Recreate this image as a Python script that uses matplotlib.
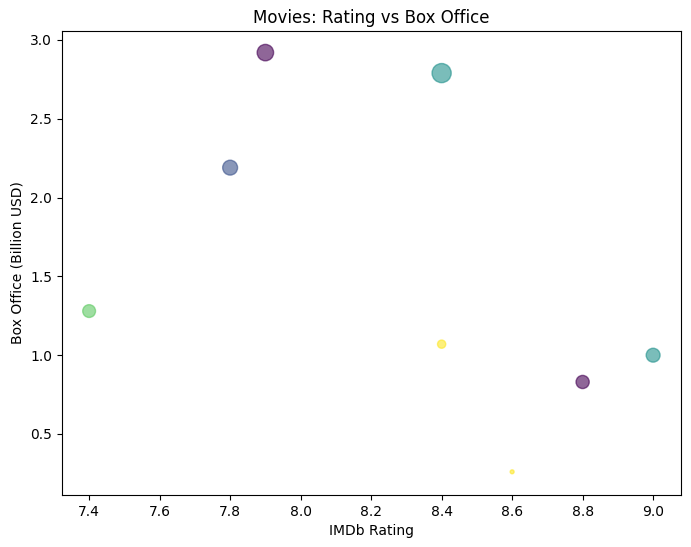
import matplotlib
matplotlib.use("Agg")
import matplotlib.pyplot as plt
import numpy as np

ratings = [7.4, 7.8, 7.9, 8.4, 8.4, 8.6, 8.8, 9.0]
box_office = [1.28, 2.19, 2.92, 2.79, 1.07, 0.26, 0.83, 1.00]
sizes = [85, 115, 140, 190, 35, 8, 90, 100]
color_codes = [3, 1, 0, 2, 4, 4, 0, 2]

fig = plt.figure(figsize=(6.91, 5.47), dpi=100)
ax = fig.add_axes([0.0897, 0.0951, 0.8958, 0.8482])
ax.scatter(ratings, box_office, s=sizes, c=color_codes, cmap="viridis", alpha=0.6)
ax.set_xlim(7.323, 9.079)
ax.set_ylim(0.113, 3.057)
ax.set_title("Movies: Rating vs Box Office")
ax.set_xlabel("IMDb Rating")
ax.set_ylabel("Box Office (Billion USD)")
fig.savefig("out.png", dpi=100)
